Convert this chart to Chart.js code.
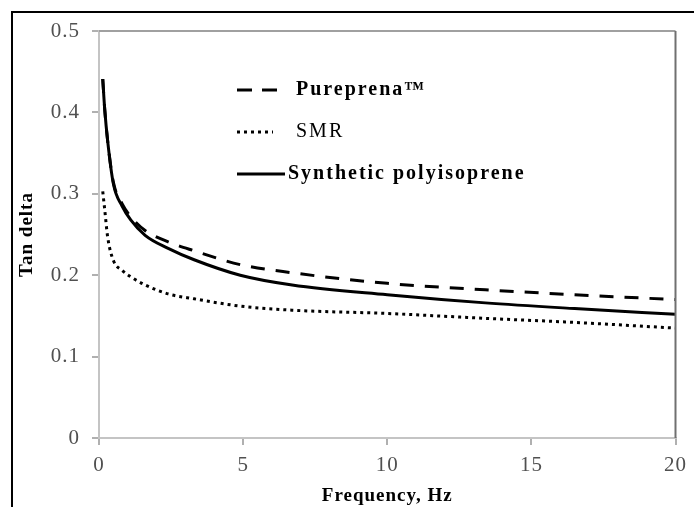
<!DOCTYPE html>
<html>
<head>
<meta charset="utf-8">
<script src="https://cdn.jsdelivr.net/npm/chart.js@4.4.1/dist/chart.umd.min.js"></script>
<style>
  html, body { margin: 0; padding: 0; background: #fff; }
  #wrap { position: relative; width: 694px; height: 507px; }
</style>
</head>
<body>
<div id="wrap"><canvas id="c" width="694" height="507"></canvas></div>
<script>
const frequency = [0.13, 0.2, 0.3, 0.5, 0.8, 1.1, 1.6, 2.4, 3.3, 4.9, 6.7, 10, 13.4, 16.5, 20];
const pureprena = [0.441, 0.403, 0.365, 0.314, 0.288, 0.272, 0.255, 0.241, 0.230, 0.213, 0.203, 0.190, 0.182, 0.176, 0.170];
const smr = [0.303, 0.280, 0.247, 0.218, 0.206, 0.198, 0.188, 0.177, 0.171, 0.162, 0.157, 0.153, 0.147, 0.142, 0.135];
const synthetic = [0.441, 0.403, 0.365, 0.312, 0.285, 0.268, 0.249, 0.233, 0.219, 0.200, 0.188, 0.176, 0.166, 0.159, 0.152];
const xTicks = [0, 5, 10, 15, 20];
const yTicks = [0, 0.1, 0.2, 0.3, 0.4, 0.5];
const seriesNames = ['Pureprena\u2122', 'SMR', 'Synthetic polyisoprene'];
const xTitle = 'Frequency, Hz';
const yTitle = 'Tan delta';

const pts = arr => frequency.map((f, i) => ({ x: f, y: arr[i] }));

const frame = {
  id: 'frame',
  beforeDraw(chart) {
    const ctx = chart.ctx;
    ctx.save();
    ctx.strokeStyle = '#000';
    ctx.lineWidth = 2;
    ctx.beginPath();
    ctx.moveTo(12, 507); ctx.lineTo(12, 12); ctx.lineTo(694, 12);
    ctx.stroke();
    ctx.restore();
    ctx.letterSpacing = '1px';
  },
  afterDatasetsDraw(chart) {
    const ctx = chart.ctx;
    const a = chart.chartArea;
    ctx.save();
    ctx.lineWidth = 2;
    ctx.strokeStyle = '#a0a0a0';
    ctx.beginPath();
    ctx.moveTo(a.left, a.top); ctx.lineTo(a.right, a.top);
    ctx.stroke();
    ctx.strokeStyle = '#707070';
    ctx.beginPath();
    ctx.moveTo(a.right, a.top); ctx.lineTo(a.right, a.bottom);
    ctx.stroke();
    // legend
    const rows = [
      { y: 90, x1: 237, x2: 277, tx: 296, weight: 'bold' },
      { y: 132, x1: 237, x2: 273, tx: 296, weight: 'normal' },
      { y: 174, x1: 237, x2: 285, tx: 288, weight: 'bold' }
    ];
    chart.data.datasets.forEach((ds, i) => {
      const r = rows[i];
      ctx.strokeStyle = '#000';
      ctx.lineWidth = ds.borderWidth;
      ctx.lineCap = 'butt';
      ctx.setLineDash(i === 0 ? [15, 10] : (ds.borderDash || []));
      ctx.beginPath();
      ctx.moveTo(r.x1, r.y); ctx.lineTo(r.x2, r.y);
      ctx.stroke();
      ctx.setLineDash([]);
      ctx.fillStyle = '#000';
      ctx.letterSpacing = '2px';
      ctx.font = r.weight + ' 20px "Liberation Serif", "Times New Roman", serif';
      ctx.textBaseline = 'middle';
      ctx.textAlign = 'left';
      ctx.fillText(ds.label, r.tx, r.y);
    });
    ctx.restore();
  }
};

new Chart(document.getElementById('c'), {
  type: 'line',
  data: {
    datasets: [
      { label: seriesNames[0], data: pts(pureprena), borderColor: '#000', borderWidth: 3, borderDash: [14, 11], pointRadius: 0, cubicInterpolationMode: 'monotone', fill: false },
      { label: seriesNames[1], data: pts(smr), borderColor: '#000', borderWidth: 3, borderDash: [3, 4], pointRadius: 0, cubicInterpolationMode: 'monotone', fill: false },
      { label: seriesNames[2], data: pts(synthetic), borderColor: '#000', borderWidth: 3, pointRadius: 0, cubicInterpolationMode: 'monotone', fill: false }
    ]
  },
  options: {
    responsive: false,
    animation: false,
    layout: { padding: { left: 0, top: 31, right: 16, bottom: 0 } },
    plugins: { legend: { display: false }, tooltip: { enabled: false } },
    scales: {
      x: {
        type: 'linear', min: 0, max: 20,
        afterBuildTicks: s => { s.ticks = xTicks.map(v => ({ value: v })); },
        afterFit: s => { s.height = 69; },
        grid: { drawOnChartArea: false, tickLength: 7, color: '#b0b0b0', lineWidth: 2 },
        border: { color: '#c4c4c4', width: 2 },
        ticks: { color: '#505050', padding: 8, font: { family: '"Liberation Serif", serif', size: 21 } },
        title: { display: true, text: xTitle, color: '#000', padding: { top: 3, bottom: 0 }, font: { family: '"Liberation Serif", serif', size: 19, weight: 'bold' } }
      },
      y: {
        type: 'linear', min: 0, max: 0.5,
        afterBuildTicks: s => { s.ticks = yTicks.map(v => ({ value: v })); },
        afterFit: s => { s.width = 99; },
        grid: { drawOnChartArea: false, tickLength: 7, color: '#b0b0b0', lineWidth: 2 },
        border: { color: '#c4c4c4', width: 2 },
        ticks: { color: '#505050', padding: 12, font: { family: '"Liberation Serif", serif', size: 21 }, callback: v => String(Math.round(v * 10) / 10) },
        title: { display: true, text: yTitle, color: '#000', padding: { top: 16, bottom: 0 }, font: { family: '"Liberation Serif", serif', size: 19, weight: 'bold' } }
      }
    }
  },
  plugins: [frame]
});
</script>
</body>
</html>
